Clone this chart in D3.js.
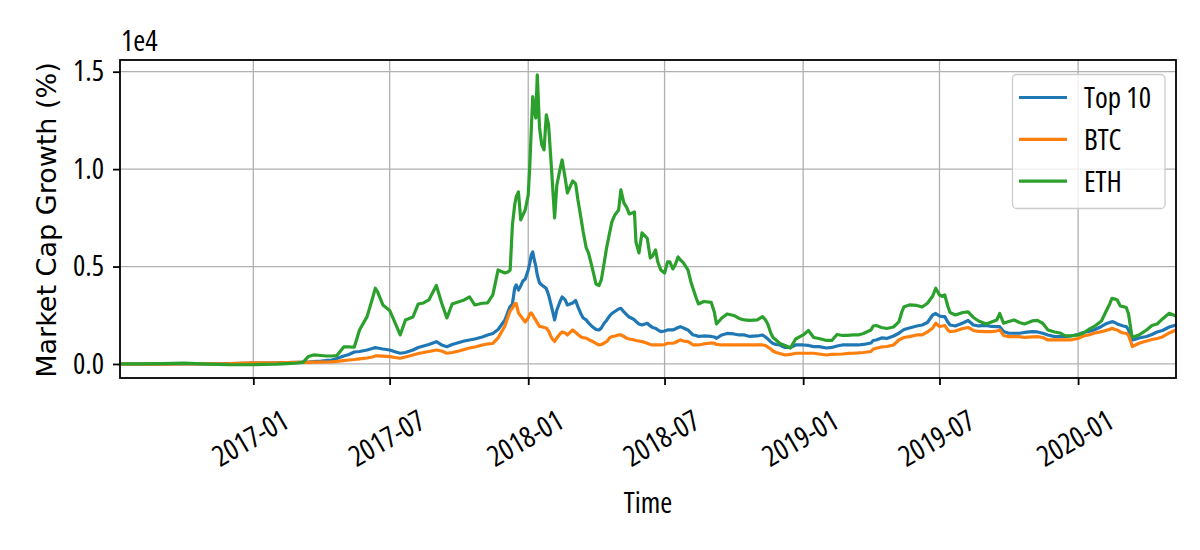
<!DOCTYPE html>
<html>
<head>
<meta charset="utf-8">
<script src="https://cdn.jsdelivr.net/npm/d3@7"></script>
<style>
  body { margin: 0; background: #fff; }
  .narrow { font-family: "Open Sans", "Noto Sans", sans-serif; font-stretch: 75%; font-size: 29px; }
</style>
</head>
<body>
<div id="chart"></div>
<script>

// one line per month (or block of months)
var dates = [
    "2016-07-08","2016-08-01","2016-09-01","2016-10-01","2016-11-01","2016-12-01",
    "2017-01-01","2017-01-15","2017-02-01","2017-02-15",
    "2017-03-01","2017-03-08","2017-03-15","2017-03-22",
    "2017-04-01","2017-04-08","2017-04-15","2017-04-22",
    "2017-05-01","2017-05-08","2017-05-15","2017-05-22",
    "2017-06-01","2017-06-08","2017-06-12","2017-06-15","2017-06-22",
    "2017-07-01","2017-07-08","2017-07-15","2017-07-22",
    "2017-08-01","2017-08-08","2017-08-15","2017-08-22",
    "2017-09-01","2017-09-08","2017-09-15","2017-09-22",
    "2017-10-01","2017-10-08","2017-10-15","2017-10-22",
    "2017-11-01","2017-11-08","2017-11-15","2017-11-22",
    "2017-12-01","2017-12-05","2017-12-08","2017-12-11","2017-12-14","2017-12-16","2017-12-19","2017-12-22","2017-12-25","2017-12-28",
    "2018-01-01","2018-01-03","2018-01-05","2018-01-07","2018-01-09","2018-01-11","2018-01-13","2018-01-16","2018-01-19","2018-01-22","2018-01-25","2018-01-28",
    "2018-02-01","2018-02-05","2018-02-08","2018-02-12","2018-02-15","2018-02-19","2018-02-22",
    "2018-03-01","2018-03-05","2018-03-08","2018-03-12","2018-03-15","2018-03-19","2018-03-22","2018-03-26",
    "2018-04-01","2018-04-05","2018-04-08","2018-04-12","2018-04-15","2018-04-19","2018-04-22","2018-04-26",
    "2018-05-01","2018-05-04","2018-05-08","2018-05-12","2018-05-15","2018-05-19","2018-05-22","2018-05-24","2018-05-28",
    "2018-06-01","2018-06-05","2018-06-08","2018-06-12","2018-06-15","2018-06-19","2018-06-22","2018-06-26",
    "2018-07-01","2018-07-05","2018-07-08","2018-07-12","2018-07-15","2018-07-19","2018-07-22","2018-07-26",
    "2018-08-01","2018-08-05","2018-08-08","2018-08-12","2018-08-15","2018-08-22",
    "2018-09-01","2018-09-05","2018-09-08","2018-09-15","2018-09-22",
    "2018-10-01","2018-10-08","2018-10-15","2018-10-22",
    "2018-11-01","2018-11-08","2018-11-12","2018-11-15","2018-11-19","2018-11-22","2018-11-26",
    "2018-12-01","2018-12-08","2018-12-15","2018-12-22",
    "2019-01-01","2019-01-08","2019-01-15","2019-01-22",
    "2019-02-01","2019-02-08","2019-02-15","2019-02-22",
    "2019-03-01","2019-03-08","2019-03-15","2019-03-22",
    "2019-04-01","2019-04-04","2019-04-08","2019-04-15","2019-04-22",
    "2019-05-01","2019-05-08","2019-05-12","2019-05-15","2019-05-22",
    "2019-06-01","2019-06-08","2019-06-15","2019-06-22","2019-06-26",
    "2019-07-01","2019-07-05","2019-07-08","2019-07-12","2019-07-15","2019-07-22",
    "2019-08-01","2019-08-08","2019-08-15","2019-08-22",
    "2019-09-01","2019-09-08","2019-09-15","2019-09-19","2019-09-24",
    "2019-10-01","2019-10-08","2019-10-15","2019-10-22",
    "2019-11-01","2019-11-08","2019-11-15","2019-11-22",
    "2019-12-01","2019-12-08","2019-12-15","2019-12-22",
    "2020-01-01","2020-01-08","2020-01-15","2020-01-22",
    "2020-02-01","2020-02-08","2020-02-12","2020-02-15","2020-02-19","2020-02-22","2020-02-26",
    "2020-03-01","2020-03-05","2020-03-08","2020-03-12","2020-03-13","2020-03-16","2020-03-22",
    "2020-04-01","2020-04-08","2020-04-15","2020-04-22",
    "2020-05-01","2020-05-10"
];

var top10 = [
    0,-10,-5,0,10,20,
    50,50,60,70,
    80,90,100,118,
    144,180,205,280,
    410,490,615,640,
    719,796,837,821,770,
    719,631,549,590,
    719,847,924,1001,
    1145,975,888,1001,
    1104,1181,1232,1283,
    1386,1489,1566,1771,
    2259,2669,2952,3080,3901,4055,3798,4004,4260,4363,
    4825,5169,5595,5749,5338,5030,4568,4158,4055,3968,3875,3542,
    2926,2259,2772,3182,3439,3285,3028,
    3131,3260,2926,2567,2361,2259,2105,1951,
    1771,1745,1848,2105,2233,2464,2592,2695,
    2823,2859,2669,2515,2413,2336,2259,2182,2053,
    2002,2053,2089,1951,1874,1833,1745,1658,
    1694,1745,1745,1745,1797,1874,1915,1848,
    1745,1591,1489,1463,1412,1437,
    1412,1386,1319,1489,1566,
    1540,1489,1489,1412,
    1437,1489,1386,1283,1129,1052,1001,
    975,847,847,975,
    975,950,888,888,
    821,847,924,975,
    975,975,975,1001,
    1078,1206,1232,1335,1309,
    1437,1576,1694,1771,1848,
    1951,2002,2130,2515,2592,
    2464,2428,2428,2156,2002,1951,
    2105,2233,2002,1951,
    1976,1925,1915,1915,1668,
    1576,1576,1576,1617,
    1658,1643,1576,1489,
    1401,1401,1401,1437,
    1514,1617,1668,1745,
    1925,2079,2130,2171,2130,2053,2002,
    1951,1915,1745,1335,1232,1258,1335,
    1412,1514,1643,1720,
    1899,2002
];

var btc = [
    0,-10,-5,0,10,20,
    60,60,60,70,
    80,80,85,90,
    90,100,110,130,
    175,205,230,265,
    308,360,411,411,400,
    375,334,293,360,
    462,539,590,642,
    719,667,549,590,
    667,744,821,873,
    975,1027,1052,1335,
    1951,2413,2721,2875,3080,3105,2618,2464,2310,2156,
    2361,2567,2618,2515,2361,2259,2105,1925,1915,1874,1848,1694,
    1335,1155,1335,1540,1643,1591,1489,
    1745,1617,1514,1386,1350,1319,1258,1181,
    1052,975,1001,1078,1145,1335,1401,1437,
    1489,1489,1412,1319,1283,1258,1232,1206,1181,
    1145,1104,1063,1001,975,975,975,975,
    1001,1063,1063,1063,1104,1181,1232,1181,
    1145,1052,975,975,975,1027,
    1078,1063,1001,975,975,
    975,975,975,975,
    975,975,950,873,770,667,590,
    539,462,488,549,
    549,549,549,513,
    462,488,498,513,
    539,549,565,590,
    642,770,806,873,898,
    975,1232,1309,1360,1401,
    1489,1489,1643,1848,2089,
    1925,1951,1976,1745,1658,1694,
    1822,1874,1720,1668,
    1658,1658,1694,1745,1463,
    1401,1401,1401,1360,
    1386,1401,1360,1232,
    1232,1232,1232,1232,
    1309,1437,1489,1576,
    1658,1735,1771,1833,1771,1745,1643,
    1591,1576,1463,1027,888,950,1063,
    1181,1258,1309,1386,
    1591,1745
];

var eth = [
    0,10,20,40,-10,-40,
    -40,-20,-10,20,
    50,80,380,462,
    436,410,410,436,
    873,873,857,1745,
    2428,3336,3886,3696,3028,
    2746,2130,1489,2259,
    2413,3080,3131,3285,
    4029,3131,2361,3080,
    3198,3285,3439,3028,
    3116,3131,3542,4825,
    4671,4722,4825,7135,8161,8572,8829,7392,7648,7905,
    8675,10128,12011,13721,13038,12627,14836,12114,11241,10985,12781,12268,
    9958,7494,9188,9958,10471,9548,8777,
    9393,9240,8418,7494,6776,5954,5698,5082,
    4106,4029,4312,5236,5954,6724,7289,7648,
    7905,8931,8264,8008,7700,7751,7802,6262,5698,
    6724,6570,6452,5441,5544,5852,5236,4825,
    4671,5236,5236,4876,5082,5493,5338,5184,
    4825,4209,3850,3388,3080,3208,
    3157,2669,2053,2361,2567,
    2490,2336,2259,2233,
    2259,2428,2259,2053,1591,1360,1232,
    1052,950,821,1283,
    1489,1720,1360,1309,
    1206,1206,1514,1463,
    1463,1489,1489,1566,
    1745,1951,1976,1874,1822,
    1899,2156,2669,2941,3028,
    3003,2926,3116,3490,3886,
    3542,3465,3542,2977,2643,2515,
    2643,2669,2387,2207,
    2053,2156,2259,2592,2089,
    2182,2259,2130,2053,
    2207,2233,2089,1745,
    1643,1591,1437,1437,
    1489,1591,1771,1915,
    2207,2772,3080,3372,3336,3285,2977,
    2941,2900,2567,1540,1386,1412,1489,
    1745,1976,2053,2310,
    2602,2464
];

var seriesNames = ["Top 10", "BTC", "ETH"];
var seriesColors = ["#1f77b4", "#ff7f0e", "#2ca02c"];
var yTicks = [0, 5000, 10000, 15000];
var yTickLabels = ["0.0", "0.5", "1.0", "1.5"];
var yLimits = [-720, 15600];

function drawChart() {
    var width = 1200, height = 550;
    var margin = {top: 60, right: 24, bottom: 172, left: 120};
    var plotW = width - margin.left - margin.right;
    var plotH = height - margin.top - margin.bottom;

    var parse = d3.timeParse("%Y-%m-%d");
    var times = dates.map(parse);

    var series = [top10, btc, eth].map(function(vals, i) {
        return {
            name: seriesNames[i],
            color: seriesColors[i],
            values: vals.map(function(v, j) { return {date: times[j], value: v}; })
        };
    });

    var svg = d3.select("#chart").append("svg")
        .attr("width", width)
        .attr("height", height)
        .style("background", "#fff");

    var x = d3.scaleTime()
        .domain(d3.extent(times))
        .range([margin.left, width - margin.right]);

    var y = d3.scaleLinear()
        .domain(yLimits)
        .range([height - margin.bottom, margin.top]);

    var xTicks = x.ticks(d3.timeMonth.every(6));

    // grid
    var grid = svg.append("g");
    grid.selectAll("line.gx")
        .data(xTicks)
        .enter().append("line")
        .attr("x1", function(d) { return x(d); })
        .attr("x2", function(d) { return x(d); })
        .attr("y1", margin.top)
        .attr("y2", height - margin.bottom)
        .attr("stroke", "#b0b0b0")
        .attr("stroke-width", 1.3);
    grid.selectAll("line.gy")
        .data(yTicks)
        .enter().append("line")
        .attr("x1", margin.left)
        .attr("x2", width - margin.right)
        .attr("y1", function(d) { return y(d); })
        .attr("y2", function(d) { return y(d); })
        .attr("stroke", "#b0b0b0")
        .attr("stroke-width", 1.3);

    svg.append("clipPath").attr("id", "plotclip")
        .append("rect")
        .attr("x", margin.left).attr("y", margin.top)
        .attr("width", plotW).attr("height", plotH);

    var line = d3.line()
        .x(function(d) { return x(d.date); })
        .y(function(d) { return y(d.value); });

    svg.append("g")
        .attr("clip-path", "url(#plotclip)")
        .selectAll("path")
        .data(series)
        .enter().append("path")
        .attr("d", function(d) { return line(d.values); })
        .attr("fill", "none")
        .attr("stroke", function(d) { return d.color; })
        .attr("stroke-width", 3.2)
        .attr("stroke-linejoin", "round");

    // axes
    var xAxis = svg.append("g")
        .attr("transform", "translate(0," + (height - margin.bottom) + ")")
        .call(d3.axisBottom(x)
            .tickValues(xTicks)
            .tickFormat(d3.timeFormat("%Y-%m"))
            .tickSize(7));
    xAxis.select(".domain").remove();
    xAxis.selectAll(".tick line").attr("stroke", "#000").attr("stroke-width", 1.8);
    xAxis.selectAll(".tick text")
        .attr("class", "narrow")
        .attr("y", null)
        .attr("dy", null)
        .attr("transform", "translate(-4,59) rotate(-30)")
        .attr("dominant-baseline", "central")
        .attr("text-anchor", "middle")
        .attr("fill", "#000");

    var yAxis = svg.append("g")
        .attr("transform", "translate(" + margin.left + ",0)")
        .call(d3.axisLeft(y)
            .tickValues(yTicks)
            .tickFormat(function(d, i) { return yTickLabels[i]; })
            .tickSize(7)
            .tickPadding(9));
    yAxis.select(".domain").remove();
    yAxis.selectAll(".tick line").attr("stroke", "#000").attr("stroke-width", 1.8);
    yAxis.selectAll(".tick text")
        .attr("class", "narrow")
        .attr("fill", "#000");

    // frame
    svg.append("rect")
        .attr("x", margin.left).attr("y", margin.top)
        .attr("width", plotW).attr("height", plotH)
        .attr("fill", "none")
        .attr("stroke", "#000")
        .attr("stroke-width", 1.8);

    // offset text and labels
    svg.append("text")
        .attr("class", "narrow")
        .attr("x", margin.left + 1)
        .attr("y", 51)
        .text("1e4");

    svg.append("text")
        .attr("transform", "translate(56," + (margin.top + plotH / 2 + 1) + ") rotate(-90)")
        .attr("text-anchor", "middle")
        .style("font-family", '"DejaVu Sans", sans-serif')
        .style("font-size", "27px")
        .text("Market Cap Growth (%)");

    svg.append("text")
        .attr("class", "narrow")
        .attr("x", margin.left + plotW / 2)
        .attr("y", 513)
        .attr("text-anchor", "middle")
        .text("Time");

    // legend
    var legend = svg.append("g").attr("transform", "translate(1012.5,74.5)");
    legend.append("rect")
        .attr("width", 152.5)
        .attr("height", 134)
        .attr("rx", 4)
        .attr("fill", "#fff")
        .attr("fill-opacity", 0.8)
        .attr("stroke", "#cccccc")
        .attr("stroke-width", 1.3);

    var items = legend.selectAll("g.item")
        .data(series)
        .enter().append("g")
        .attr("transform", function(d, i) { return "translate(0," + (23 + i * 41.8) + ")"; });
    items.append("line")
        .attr("x1", 6.5).attr("x2", 54.5)
        .attr("stroke", function(d) { return d.color; })
        .attr("stroke-width", 3.2);
    items.append("text")
        .attr("class", "narrow")
        .attr("x", 71.5)
        .attr("y", 10.4)
        .text(function(d) { return d.name; });
}

drawChart();

</script>
</body>
</html>
